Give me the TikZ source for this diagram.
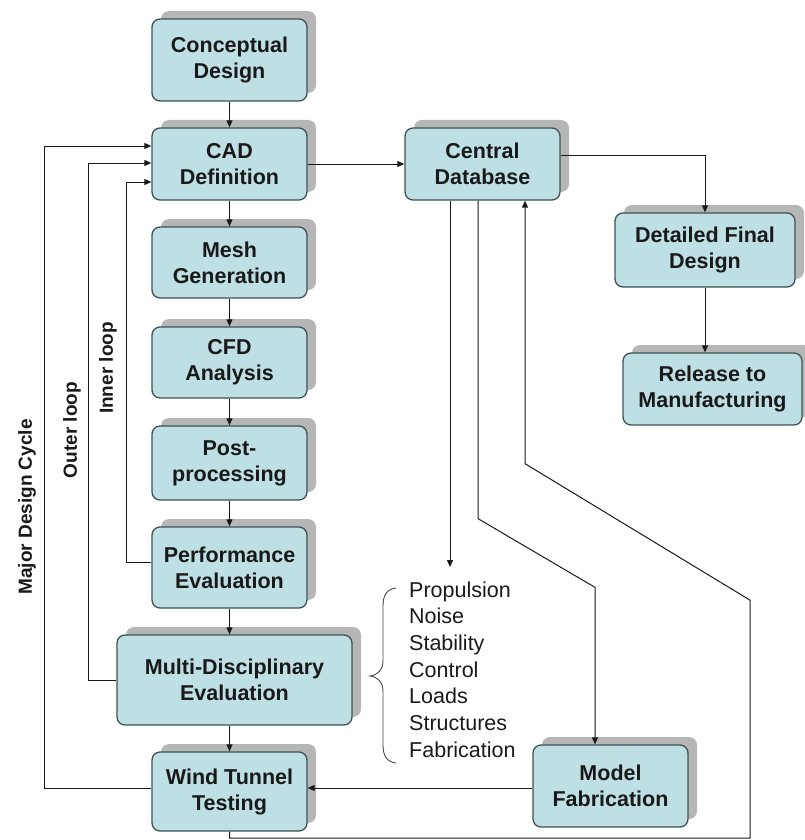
\documentclass[tikz,border=0pt]{standalone}
\usepackage{fontspec}
\setmainfont{Liberation Sans}
\usetikzlibrary{arrows.meta,shadows,calc}
\definecolor{boxfill}{RGB}{190,224,229}
\definecolor{boxline}{RGB}{62,82,86}
\definecolor{shadowgray}{RGB}{182,182,182}
\definecolor{inkc}{RGB}{25,25,25}
\begin{document}
\begin{tikzpicture}[x=1pt,y=-1pt,
  box/.style={draw=boxline, line width=1.3pt, fill=boxfill, rounded corners=8pt,
    align=center, text=inkc, font=\bfseries\fontsize{21.5}{26}\selectfont,
    inner sep=0pt, minimum width=155pt,
    drop shadow={shadow xshift=9pt, shadow yshift=8pt, fill=shadowgray, opacity=1, draw=none}},
  conn/.style={draw=inkc, line width=1pt},
  arr/.style={conn, -{Triangle[length=7pt,width=6pt]}},
  looplabel/.style={font=\bfseries\fontsize{19}{22}\selectfont, rotate=90, text=inkc, inner sep=0pt},
  listtxt/.style={font=\fontsize{21.5}{26}\selectfont, anchor=base west, inner sep=0pt, text=inkc}]
\useasboundingbox (0,0) rectangle (805,840);

% main column
\node[box, minimum height=82pt] (concept) at (229.5,60) {Conceptual\\Design};
\node[box, minimum height=72pt] (cad) at (229.5,164) {CAD\\Definition};
\node[box, minimum height=71pt] (mesh) at (229.5,262.5) {Mesh\\Generation};
\node[box, minimum height=71pt] (cfd) at (229.5,362.5) {CFD\\Analysis};
\node[box, minimum height=74pt] (post) at (229.5,463) {Post-\\processing};
\node[box, minimum height=81pt] (perf) at (229.5,567.5) {Performance\\Evaluation};
\node[box, minimum height=90pt, minimum width=235pt] (multi) at (234.5,680) {Multi-Disciplinary\\Evaluation};
\node[box, minimum height=79pt] (wind) at (229.5,791.5) {Wind Tunnel\\Testing};

% right side
\node[box, minimum height=72pt] (db) at (482.5,164) {Central\\Database};
\node[box, minimum height=74pt, minimum width=180pt] (detail) at (705,250) {Detailed Final\\Design};
\node[box, minimum height=72pt, minimum width=179pt] (release) at (712.5,389) {Release to\\Manufacturing};
\node[box, minimum height=82pt] (model) at (610.5,786) {Model\\Fabrication};

% loop labels
\node[looplabel] (major) at (27,507) {Major Design Cycle};
\node[looplabel] (outer) at (72,430) {Outer loop};
\node[looplabel] (inner) at (108,368) {Inner loop};

% discipline list
\foreach \t [count=\i] in {Propulsion,Noise,Stability,Control,Loads,Structures,Fabrication}
  \node[listtxt] (l\i) at ({409},{597+26.7*(\i-1)}) {\t};
\coordinate (listtop) at (450,567);

% brace
\draw[draw=inkc!80, line width=0.9pt] (396,588) .. controls (387,589) and (383,595) .. (383,606)
  -- (383,660) .. controls (383,670) and (378,675) .. (370,676)
  .. controls (378,677) and (383,682) .. (383,692)
  -- (383,745) .. controls (383,756) and (387,762) .. (396,763);

% main chain
\draw[arr] (concept.south) -- (concept.south |- cad.north);
\draw[arr] (cad.south) -- (cad.south |- mesh.north);
\draw[arr] (mesh.south) -- (mesh.south |- cfd.north);
\draw[arr] (cfd.south) -- (cfd.south |- post.north);
\draw[arr] (post.south) -- (post.south |- perf.north);
\draw[arr] (perf.south) -- (perf.south |- multi.north);
\draw[arr] (wind.north |- multi.south) -- (wind.north);

% loops
\draw[arr] ($(perf.west)+(0,-5)$) -- ++(-25,0) |- ($(cad.west)+(0,18)$);
\draw[arr] (multi.west) -- ++(-28,0) |- ($(cad.west)+(0,-1)$);
\draw[arr] ($(wind.west)+(0,-3.5)$) -- ++(-107,0) |- ($(cad.west)+(0,-18)$);

% database links
\draw[arr] (cad.east) -- (db.west);
\draw[arr] ($(db.east)+(0,-9)$) -| (detail.north);
\draw[arr] (detail.south) -- (detail.south |- release.north);
\draw[arr] ($(db.south)+(-32.5,0)$) -- (listtop);
\draw[arr] ($(db.south)+(-4.5,0)$) -- ++(0,318) -- ($(model.north)+(-15.5,-157)$) -- ($(model.north)+(-15.5,0)$);
\draw[arr] ($(model.west)+(0,2)$) -- ($(wind.east)+(0,-3.5)$);
\draw[arr] (wind.south) -- ($(wind.south)+(0,6.5)$) -- ++(520.5,0) -- ++(0,-238)
  -- ($(db.south)+(42.5,263)$) -- ($(db.south)+(42.5,0)$);
\end{tikzpicture}
\end{document}
